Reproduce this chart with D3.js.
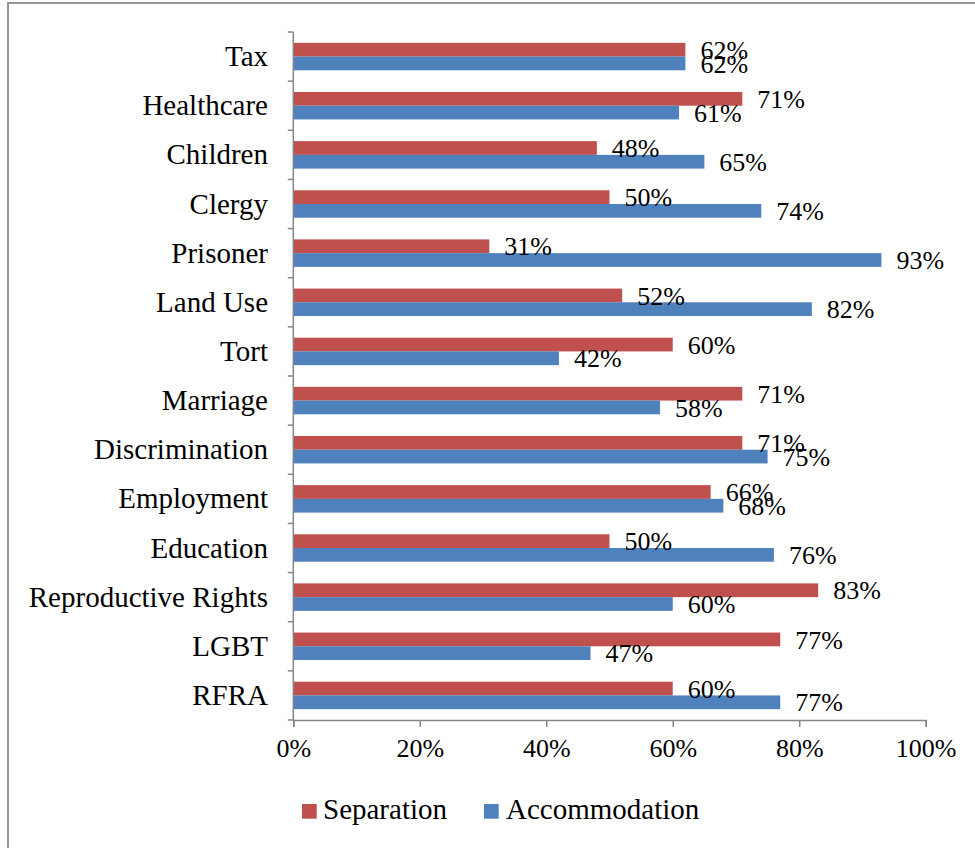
<!DOCTYPE html>
<html>
<head>
<meta charset="utf-8">
<script src="https://cdn.jsdelivr.net/npm/d3@7"></script>
<style>
  html, body { margin: 0; padding: 0; background: #fff; }
  svg { display: block; }
</style>
</head>
<body>
<svg id="chart" width="975" height="848"></svg>
<script>
const categories = ["Tax", "Healthcare", "Children", "Clergy", "Prisoner", "Land Use", "Tort",
  "Marriage", "Discrimination", "Employment", "Education", "Reproductive Rights", "LGBT", "RFRA"];
const seriesNames = ["Separation", "Accommodation"];
const separation = [62, 71, 48, 50, 31, 52, 60, 71, 71, 66, 50, 83, 77, 60];
const accommodation = [62, 61, 65, 74, 93, 82, 42, 58, 75, 68, 76, 60, 47, 77];
const xTicks = [0, 20, 40, 60, 80, 100];
const colors = ["#C0504D", "#4F81BD"];

(function () {
const FONT = "'Liberation Serif', 'Times New Roman', serif";
const svg = d3.select("#chart").style("font-family", FONT);

// outer frame
svg.append("rect").attr("x", 8).attr("y", 3).attr("width", 1000).attr("height", 1000)
  .attr("fill", "none").attr("stroke", "#8a8a8a").attr("stroke-width", 1.8);

const mLeft = 293.3, mRight = 925.7, mTop = 32, mBottom = 720;
const x = d3.scaleLinear().domain([0, 100]).range([mLeft, mRight]);
const y = d3.scaleBand().domain(categories).range([mTop, mBottom]).padding(0);
const y1 = d3.scaleBand().domain(seriesNames).range([0, y.bandwidth()]).paddingInner(0).paddingOuter(0.79);

const data = categories.map((c, i) => ({ cat: c, vals: [separation[i], accommodation[i]] }));

// bars
const groups = svg.append("g").selectAll("g").data(data).join("g")
  .attr("transform", d => `translate(0,${y(d.cat)})`);
groups.selectAll("rect").data(d => d.vals.map((v, k) => ({ v, k, s: seriesNames[k] }))).join("rect")
  .attr("x", x(0))
  .attr("y", d => y1(d.s))
  .attr("width", d => x(d.v) - x(0))
  .attr("height", y1.bandwidth())
  .attr("fill", d => colors[d.k]);

// data labels
groups.selectAll("text").data(d => d.vals.map((v, k) => ({ v, k, s: seriesNames[k] }))).join("text")
  .attr("x", d => x(d.v) + 15)
  .attr("y", d => y1(d.s) + y1.bandwidth() / 2)
  .attr("dy", "0.35em")
  .style("font-family", FONT)
  .style("font-size", "26px")
  .attr("fill", "#000")
  .text(d => d.v + "%");

// y axis
const yAxisG = svg.append("g");
yAxisG.append("line").attr("x1", mLeft).attr("x2", mLeft).attr("y1", mTop).attr("y2", mBottom)
  .attr("stroke", "#868686").attr("stroke-width", 1.5);
const boundaries = categories.map(c => y(c)).concat([mBottom]);
yAxisG.selectAll("line.tk").data(boundaries).join("line").attr("class", "tk")
  .attr("x1", mLeft - 5.5).attr("x2", mLeft).attr("y1", d => d).attr("y2", d => d)
  .attr("stroke", "#868686").attr("stroke-width", 1.5);
yAxisG.selectAll("text").data(categories).join("text")
  .attr("x", 268).attr("y", d => y(d) + y.bandwidth() / 2)
  .attr("dy", "0.33em")
  .attr("text-anchor", "end")
  .style("font-family", FONT)
  .style("font-size", "29px")
  .attr("fill", "#000")
  .text(d => d);

// x axis
const xAxis = d3.axisBottom(x).tickValues(xTicks).tickFormat(d => d + "%").tickSize(7).tickPadding(12);
const xg = svg.append("g").attr("transform", `translate(0,${mBottom})`).call(xAxis);
xg.attr("font-family", null).attr("font-size", null);
xg.select(".domain").attr("stroke", "#868686").attr("stroke-width", 1.5);
xg.selectAll(".tick line").attr("stroke", "#868686").attr("stroke-width", 1.5);
xg.selectAll(".tick text")
  .style("font-family", FONT)
  .style("font-size", "26px")
  .attr("fill", "#000");

// legend
const legendItems = [
  { name: seriesNames[0], color: colors[0], sx: 302, tx: 323 },
  { name: seriesNames[1], color: colors[1], sx: 484, tx: 506 }
];
const lg = svg.append("g");
lg.selectAll("rect").data(legendItems).join("rect")
  .attr("x", d => d.sx).attr("y", 804).attr("width", 14.7).attr("height", 14.7)
  .attr("fill", d => d.color);
lg.selectAll("text").data(legendItems).join("text")
  .attr("x", d => d.tx).attr("y", 819)
  .style("font-family", FONT)
  .style("font-size", "29px")
  .attr("fill", "#000")
  .text(d => d.name);
})();
</script>
</body>
</html>
